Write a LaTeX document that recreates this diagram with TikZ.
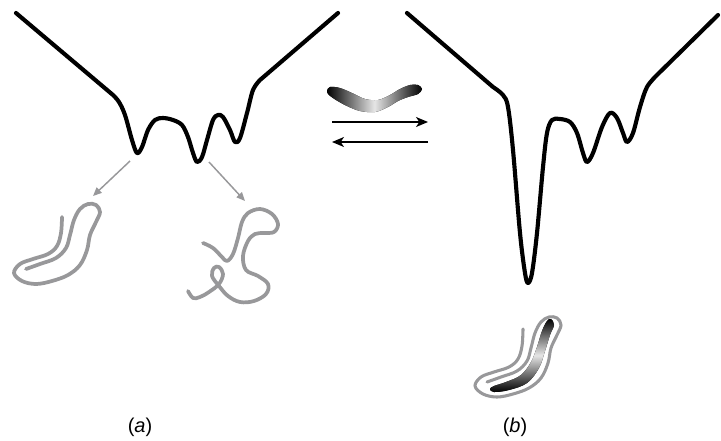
\documentclass[tikz,border=0pt]{standalone}
\usepackage{fontspec}
\setmainfont{Liberation Sans}
\usetikzlibrary{arrows.meta}
\definecolor{peptide}{RGB}{152,152,154}
\begin{document}
\begin{tikzpicture}[x=0.75pt,y=-0.75pt,
  energyline/.style={line width=3.1pt, line cap=round, line join=round},
  polypeptide/.style={draw=peptide, line width=2.8pt, line cap=round, line join=round},
  thinpeptide/.style={draw=peptide, line width=2.3pt, line cap=round, line join=round},
  pointer/.style={draw=peptide, line width=1.1pt, -{Triangle[length=6.5pt,width=5.5pt]}},
  eqarrow/.style={line width=1pt, -{Stealth[length=9pt,width=7.5pt,inset=2.5pt]}},
  lbl/.style={font=\fontsize{15}{18}\selectfont, inner sep=0pt}]
\useasboundingbox (0,0) rectangle (721,440);

% ---------- (a) rugged energy landscape ----------
\draw[energyline] (16,13) -- plot[smooth, tension=0.55] coordinates {
  (113,95) (119,102) (125,115) (132,140) (137,153) (142,147) (148,130)
  (155,120) (163,118) (173,120) (182,125) (188,137) (193,153) (197,162)
  (202,157) (207,140) (213,120) (218,115) (223,117) (230,130) (235,142)
  (240,138) (247,113) (253,90) (260,80)} -- (338,13);

% ---------- (b) funnelled landscape with one deep minimum ----------
\draw[energyline] (407,13) -- plot[smooth, tension=0.55] coordinates {
  (493,87) (503,95) (508,107) (513,150) (520,233) (525,273) (528,283)
  (532,273) (537,233) (543,167) (547,133) (552,120) (560,119) (570,122)
  (577,133) (583,153) (587,162) (593,153) (602,127) (610,113) (617,118)
  (623,133) (627,142) (633,133) (640,107) (647,87) (657,75)} -- (718,15);

% ---------- pointers from the two minima to the conformations ----------
\coordinate (wellA) at (130,161);
\coordinate (foldA) at (93,196);
\coordinate (wellB) at (209,162);
\coordinate (foldB) at (245,201);
\draw[pointer] (wellA) -- (foldA);
\draw[pointer] (wellB) -- (foldB);

% ---------- compact conformation ----------
\draw[polypeptide] plot[smooth, tension=0.6] coordinates {
  (62,217) (61,233) (57,246) (48,254) (33,259) (20,264) (14,273) (22,281)
  (36,284) (52,281) (68,275) (80,265) (87,250) (90,235) (96,222) (100,212)
  (96,205) (88,204) (80,209) (74,220) (70,235) (66,248) (56,258) (40,264)
  (26,269)};

% ---------- extended conformation ----------
\draw[polypeptide] plot[smooth, tension=0.6] coordinates {
  (203,243) (213,248) (222,257) (227,261) (233,254) (238,238) (242,222)
  (248,213) (260,209) (272,214) (278,224) (274,232) (264,233) (255,234)
  (248,241) (243,256) (246,270) (258,276) (268,284) (266,294) (254,301)
  (240,302) (228,296) (219,286) (212,276) (214,268) (219,267) (223,274)
  (219,284) (209,292) (200,297) (193,298) (188,291)};

% ---------- ligand and equilibrium arrows ----------
\fill[left color=black, right color=black, middle color=white!90!black]
  plot[smooth cycle, tension=0.55] coordinates {
  (330,87) (340,88) (352,93) (365,99) (378,100) (390,95) (400,89) (410,85)
  (418,85) (422,89) (418,94) (408,97) (398,101) (388,107) (375,112)
  (360,111) (347,106) (336,100) (329,95) (327,91)};

\coordinate (fwdA) at (332,122);
\coordinate (fwdB) at (428,122);
\coordinate (revA) at (428,142);
\coordinate (revB) at (332,142);
\draw[eqarrow] (fwdA) -- (fwdB);
\draw[eqarrow] (revA) -- (revB);

% ---------- ligand-bound conformation ----------
\draw[thinpeptide] plot[smooth, tension=0.6] coordinates {
  (523,329) (522,346) (518,359) (509,367) (494,372) (481,377) (475,386)
  (483,394) (497,397) (513,394) (529,388) (541,378) (548,363) (551,348)
  (557,335) (561,325) (557,318) (549,317) (541,322) (535,333) (531,348)
  (527,361) (517,371) (501,377) (487,382)};
\fill[top color=black, bottom color=black, middle color=white!90!black]
  plot[smooth cycle, tension=0.6] coordinates {
  (551,319) (554,325) (550,335) (545,351) (539,368) (527,383) (509,390)
  (494,392) (490,389) (494,386) (506,382) (521,375) (531,362) (537,347)
  (542,331) (547,321)};

% ---------- panel labels ----------
\node[lbl] (labA) at (140,427) {(\textit{a})};
\node[lbl] (labB) at (515,427) {(\textit{b})};
\end{tikzpicture}
\end{document}
